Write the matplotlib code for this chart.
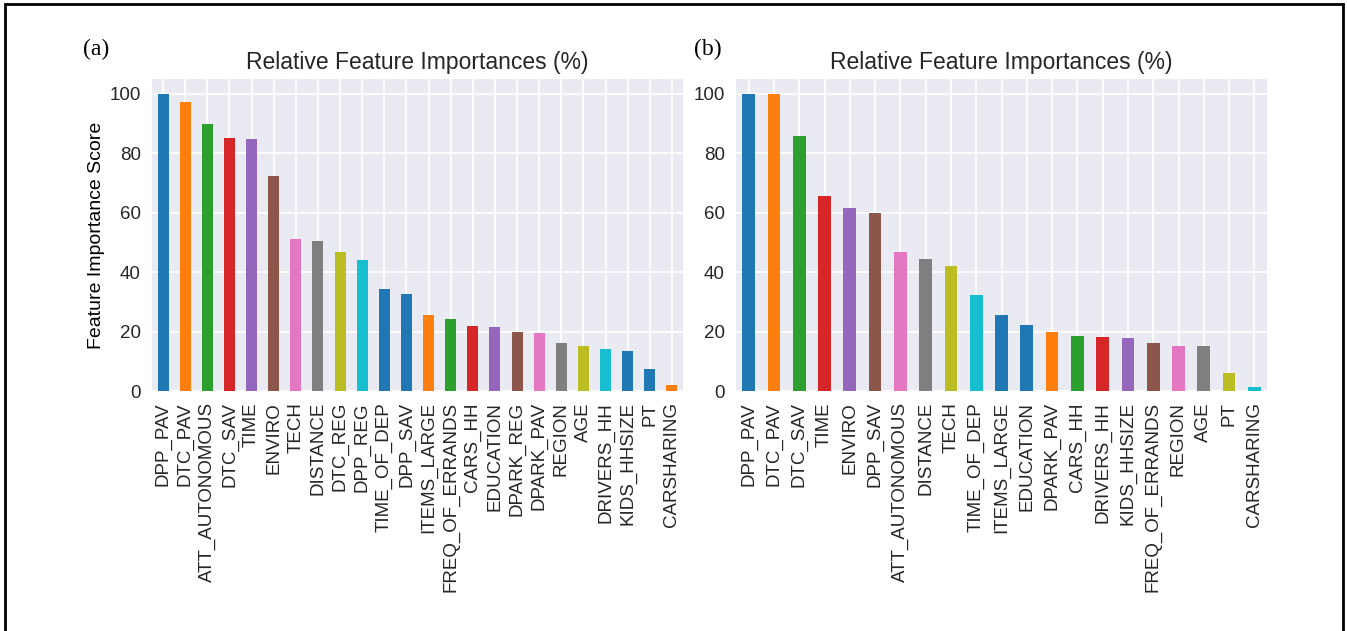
import numpy as np
import matplotlib
matplotlib.use('Agg')
import matplotlib.pyplot as plt
from matplotlib.patches import Rectangle

# Relative importances, model (a)
features_a = ['DPP_PAV', 'DTC_PAV', 'ATT_AUTONOMOUS', 'DTC_SAV', 'TIME', 'ENVIRO', 'TECH',
              'DISTANCE', 'DTC_REG', 'DPP_REG', 'TIME_OF_DEP', 'DPP_SAV', 'ITEMS_LARGE',
              'FREQ_OF_ERRANDS', 'CARS_HH', 'EDUCATION', 'DPARK_REG', 'DPARK_PAV', 'REGION',
              'AGE', 'DRIVERS_HH', 'KIDS_HHSIZE', 'PT', 'CARSHARING']
scores_a = [100, 97.1, 89.9, 85.2, 84.7, 72.3, 51.3, 50.6, 46.9, 44.0, 34.2, 32.8, 25.6,
            24.2, 22.0, 21.7, 20.0, 19.6, 16.3, 15.0, 14.1, 13.6, 7.3, 1.9]

# Relative importances, model (b)
features_b = ['DPP_PAV', 'DTC_PAV', 'DTC_SAV', 'TIME', 'ENVIRO', 'DPP_SAV', 'ATT_AUTONOMOUS',
              'DISTANCE', 'TECH', 'TIME_OF_DEP', 'ITEMS_LARGE', 'EDUCATION', 'DPARK_PAV',
              'CARS_HH', 'DRIVERS_HH', 'KIDS_HHSIZE', 'FREQ_OF_ERRANDS', 'REGION', 'AGE',
              'PT', 'CARSHARING']
scores_b = [100, 99.9, 85.7, 65.5, 61.6, 59.8, 46.7, 44.5, 42.2, 32.2, 25.6, 22.1, 20.0,
            18.4, 18.1, 17.7, 16.1, 15.3, 15.2, 5.9, 1.5]

# bar colours repeat every 11 bars
bar_colors = ['#1f77b4', '#ff7f0e', '#2ca02c', '#d62728', '#9467bd', '#8c564b',
              '#e377c2', '#7f7f7f', '#bcbd22', '#17becf', '#1f77b4']

plt.rcParams['font.family'] = ['Liberation Sans', 'DejaVu Sans']
plt.rcParams['text.color'] = '#262626'
plt.rcParams['xtick.color'] = '#262626'
plt.rcParams['ytick.color'] = '#262626'

W, H = 1347, 631
fig = plt.figure(figsize=(W / 100, H / 100), dpi=100)


def panel(left, names, vals):
    ax = fig.add_axes([left / W, (H - 391) / H, 531 / W, 312 / H])
    ax.set_facecolor('#EAEAF2')
    x = np.arange(len(names))
    cols = [bar_colors[i % len(bar_colors)] for i in range(len(names))]
    ax.bar(x, vals, width=0.5, color=cols, zorder=2)
    ax.set_xlim(-0.5, len(names) - 0.5)
    ax.set_ylim(0, 105)
    ax.set_yticks([0, 20, 40, 60, 80, 100])
    ax.set_xticks(x)
    ax.set_xticklabels(names, rotation=90)
    ax.grid(True, color='white', linewidth=1.3, zorder=0)
    ax.set_axisbelow(True)
    for s in ax.spines.values():
        s.set_visible(False)
    ax.tick_params(length=0, labelsize=13.5, pad=8)
    ax.set_title('Relative Feature Importances (%)', fontsize=16.5, pad=7)
    return ax


ax1 = panel(152, features_a, scores_a)
ax1.set_ylabel('Feature Importance Score', fontsize=14, labelpad=3)
ax2 = panel(736, features_b, scores_b)

fig.text(96 / W, 1 - 49 / H, '(a)', family=['Liberation Serif', 'DejaVu Serif'],
         fontsize=17, ha='center', va='center', color='black')
fig.text(708 / W, 1 - 49 / H, '(b)', family=['Liberation Serif', 'DejaVu Serif'],
         fontsize=17, ha='center', va='center', color='black')

# frame round the whole figure (open at the bottom)
fig.add_artist(Rectangle((5 / W, -0.1), (1343 - 5) / W, 1.1 - 4 / H, fill=False,
                         edgecolor='black', linewidth=2, transform=fig.transFigure,
                         clip_on=False))

fig.savefig('out.png', dpi=100, facecolor='white')
